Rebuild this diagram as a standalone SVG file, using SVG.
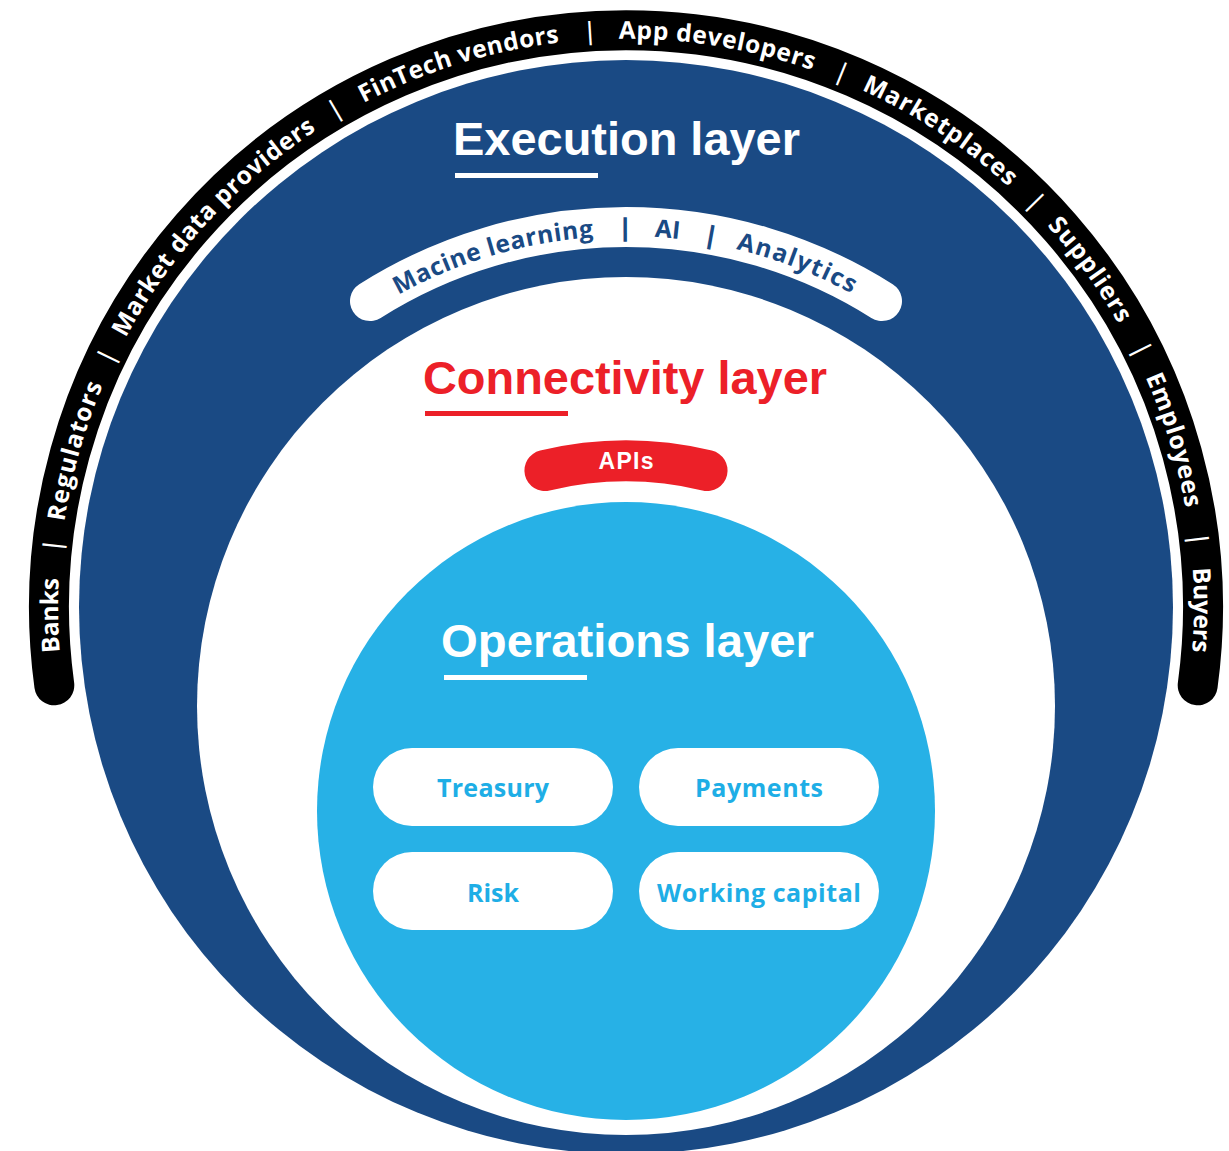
<svg xmlns="http://www.w3.org/2000/svg" width="1229" height="1151" viewBox="0 0 1229 1151">
  <style>
    .ring-label { font-family: "Open Sans", "Liberation Sans", sans-serif; font-weight: 700; font-size: 24.5px; fill: #ffffff; }
    .ring-sep { font-family: "Liberation Sans", sans-serif; font-weight: 400; font-size: 26px; fill: #ffffff; }
    .tool-label { font-family: "Open Sans", "Liberation Sans", sans-serif; font-weight: 700; font-size: 24.5px; fill: #1a4a84; }
    .tool-sep { font-family: "Liberation Sans", sans-serif; font-weight: 700; font-size: 26px; fill: #1a4a84; }
    .heading { font-family: "Liberation Sans", Arial, sans-serif; font-weight: 700; font-size: 47px; }
    .pill { fill: #ffffff; }
    .pill-text { font-family: "Open Sans", "Liberation Sans", sans-serif; font-weight: 700; font-size: 25px; fill: #1eaee6; text-anchor: middle; }
  </style>
  <defs>
    <!-- baseline for the stakeholder ring labels -->
    <path id="ringPath" d="M 63.3 684.1 A 568 568 0 1 1 1188.7 684.1" fill="none"/>
    <!-- baseline for the analytics band labels -->
    <path id="toolPath" d="M 374.8 308.8 A 470 470 0 0 1 877.2 308.8" fill="none"/>
  </defs>

  <rect x="0" y="0" width="1229" height="1151" fill="#ffffff"/>

  <!-- stakeholder ring -->
  <g id="stakeholders">
    <path d="M 54.3 685.3 A 577 577 0 1 1 1197.7 685.3" fill="none" stroke="#000000" stroke-width="40" stroke-linecap="round"/>
    <text class="ring-label" text-anchor="middle"><textPath href="#ringPath" startOffset="69" textLength="74" lengthAdjust="spacing">Banks</textPath></text>
    <text class="ring-sep" text-anchor="middle"><textPath href="#ringPath" startOffset="138">|</textPath></text>
    <text class="ring-label" text-anchor="middle"><textPath href="#ringPath" startOffset="234" textLength="142" lengthAdjust="spacing">Regulators</textPath></text>
    <text class="ring-sep" text-anchor="middle"><textPath href="#ringPath" startOffset="333">|</textPath></text>
    <text class="ring-label" text-anchor="middle"><textPath href="#ringPath" startOffset="500" textLength="285" lengthAdjust="spacing">Market data providers</textPath></text>
    <text class="ring-sep" text-anchor="middle"><textPath href="#ringPath" startOffset="669">|</textPath></text>
    <text class="ring-label" text-anchor="middle"><textPath href="#ringPath" startOffset="800" textLength="206" lengthAdjust="spacing">FinTech vendors</textPath></text>
    <text class="ring-sep" text-anchor="middle"><textPath href="#ringPath" startOffset="934">|</textPath></text>
    <text class="ring-label" text-anchor="middle"><textPath href="#ringPath" startOffset="1061" textLength="197" lengthAdjust="spacing">App developers</textPath></text>
    <text class="ring-sep" text-anchor="middle"><textPath href="#ringPath" startOffset="1188">|</textPath></text>
    <text class="ring-label" text-anchor="middle"><textPath href="#ringPath" startOffset="1301" textLength="177" lengthAdjust="spacing">Marketplaces</textPath></text>
    <text class="ring-sep" text-anchor="middle"><textPath href="#ringPath" startOffset="1419">|</textPath></text>
    <text class="ring-label" text-anchor="middle"><textPath href="#ringPath" startOffset="1505" textLength="122" lengthAdjust="spacing">Suppliers</textPath></text>
    <text class="ring-sep" text-anchor="middle"><textPath href="#ringPath" startOffset="1599">|</textPath></text>
    <text class="ring-label" text-anchor="middle"><textPath href="#ringPath" startOffset="1694" textLength="137" lengthAdjust="spacing">Employees</textPath></text>
    <text class="ring-sep" text-anchor="middle"><textPath href="#ringPath" startOffset="1795">|</textPath></text>
    <text class="ring-label" text-anchor="middle"><textPath href="#ringPath" startOffset="1865" textLength="84" lengthAdjust="spacing">Buyers</textPath></text>
  </g>

  <!-- execution layer -->
  <g id="execution-layer">
    <circle cx="626" cy="607" r="547" fill="#1a4a84"/>
    <text class="heading" x="453" y="155" fill="#ffffff" textLength="347" lengthAdjust="spacingAndGlyphs">Execution layer</text>
    <rect x="455" y="173" width="143" height="5" fill="#ffffff"/>
    <path d="M 370 301.1 A 479 479 0 0 1 882 301.1" fill="none" stroke="#ffffff" stroke-width="40" stroke-linecap="round"/>
    <text class="tool-label" text-anchor="middle"><textPath href="#toolPath" startOffset="130" textLength="205" lengthAdjust="spacing">Macine learning</textPath></text>
    <text class="tool-sep" text-anchor="middle"><textPath href="#toolPath" startOffset="264">|</textPath></text>
    <text class="tool-label" text-anchor="middle"><textPath href="#toolPath" startOffset="306">AI</textPath></text>
    <text class="tool-sep" text-anchor="middle"><textPath href="#toolPath" startOffset="349">|</textPath></text>
    <text class="tool-label" text-anchor="middle"><textPath href="#toolPath" startOffset="438" textLength="124" lengthAdjust="spacing">Analytics</textPath></text>
  </g>

  <!-- connectivity layer -->
  <g id="connectivity-layer">
    <circle cx="626" cy="706" r="429" fill="#ffffff"/>
    <text class="heading" x="423" y="394" fill="#ec2028" textLength="404" lengthAdjust="spacingAndGlyphs">Connectivity layer</text>
    <rect x="425" y="411" width="143" height="5" fill="#ec2028"/>
    <path d="M 544.9 470.5 A 350 350 0 0 1 707.1 470.5" fill="none" stroke="#ec2028" stroke-width="41" stroke-linecap="round"/>
    <text x="626" y="469" text-anchor="middle" font-family="Liberation Sans, Arial, sans-serif" font-weight="700" font-size="23" fill="#ffffff" textLength="55" lengthAdjust="spacing">APIs</text>
  </g>

  <!-- operations layer -->
  <g id="operations-layer">
    <circle cx="626" cy="811" r="309" fill="#27b1e6"/>
    <text class="heading" x="441" y="657" fill="#ffffff" textLength="373" lengthAdjust="spacingAndGlyphs">Operations layer</text>
    <rect x="444" y="675" width="143" height="5" fill="#ffffff"/>
  </g>

  <g id="treasury">
    <rect class="pill" x="373" y="748" width="240" height="78" rx="39"/>
    <text class="pill-text" x="493" y="797" textLength="112" lengthAdjust="spacing">Treasury</text>
  </g>
  <g id="payments">
    <rect class="pill" x="639" y="748" width="240" height="78" rx="39"/>
    <text class="pill-text" x="759" y="797" textLength="128" lengthAdjust="spacing">Payments</text>
  </g>
  <g id="risk">
    <rect class="pill" x="373" y="852" width="240" height="78" rx="39"/>
    <text class="pill-text" x="493" y="902">Risk</text>
  </g>
  <g id="working-capital">
    <rect class="pill" x="639" y="852" width="240" height="78" rx="39"/>
    <text class="pill-text" x="759" y="902" textLength="204" lengthAdjust="spacing">Working capital</text>
  </g>
</svg>
